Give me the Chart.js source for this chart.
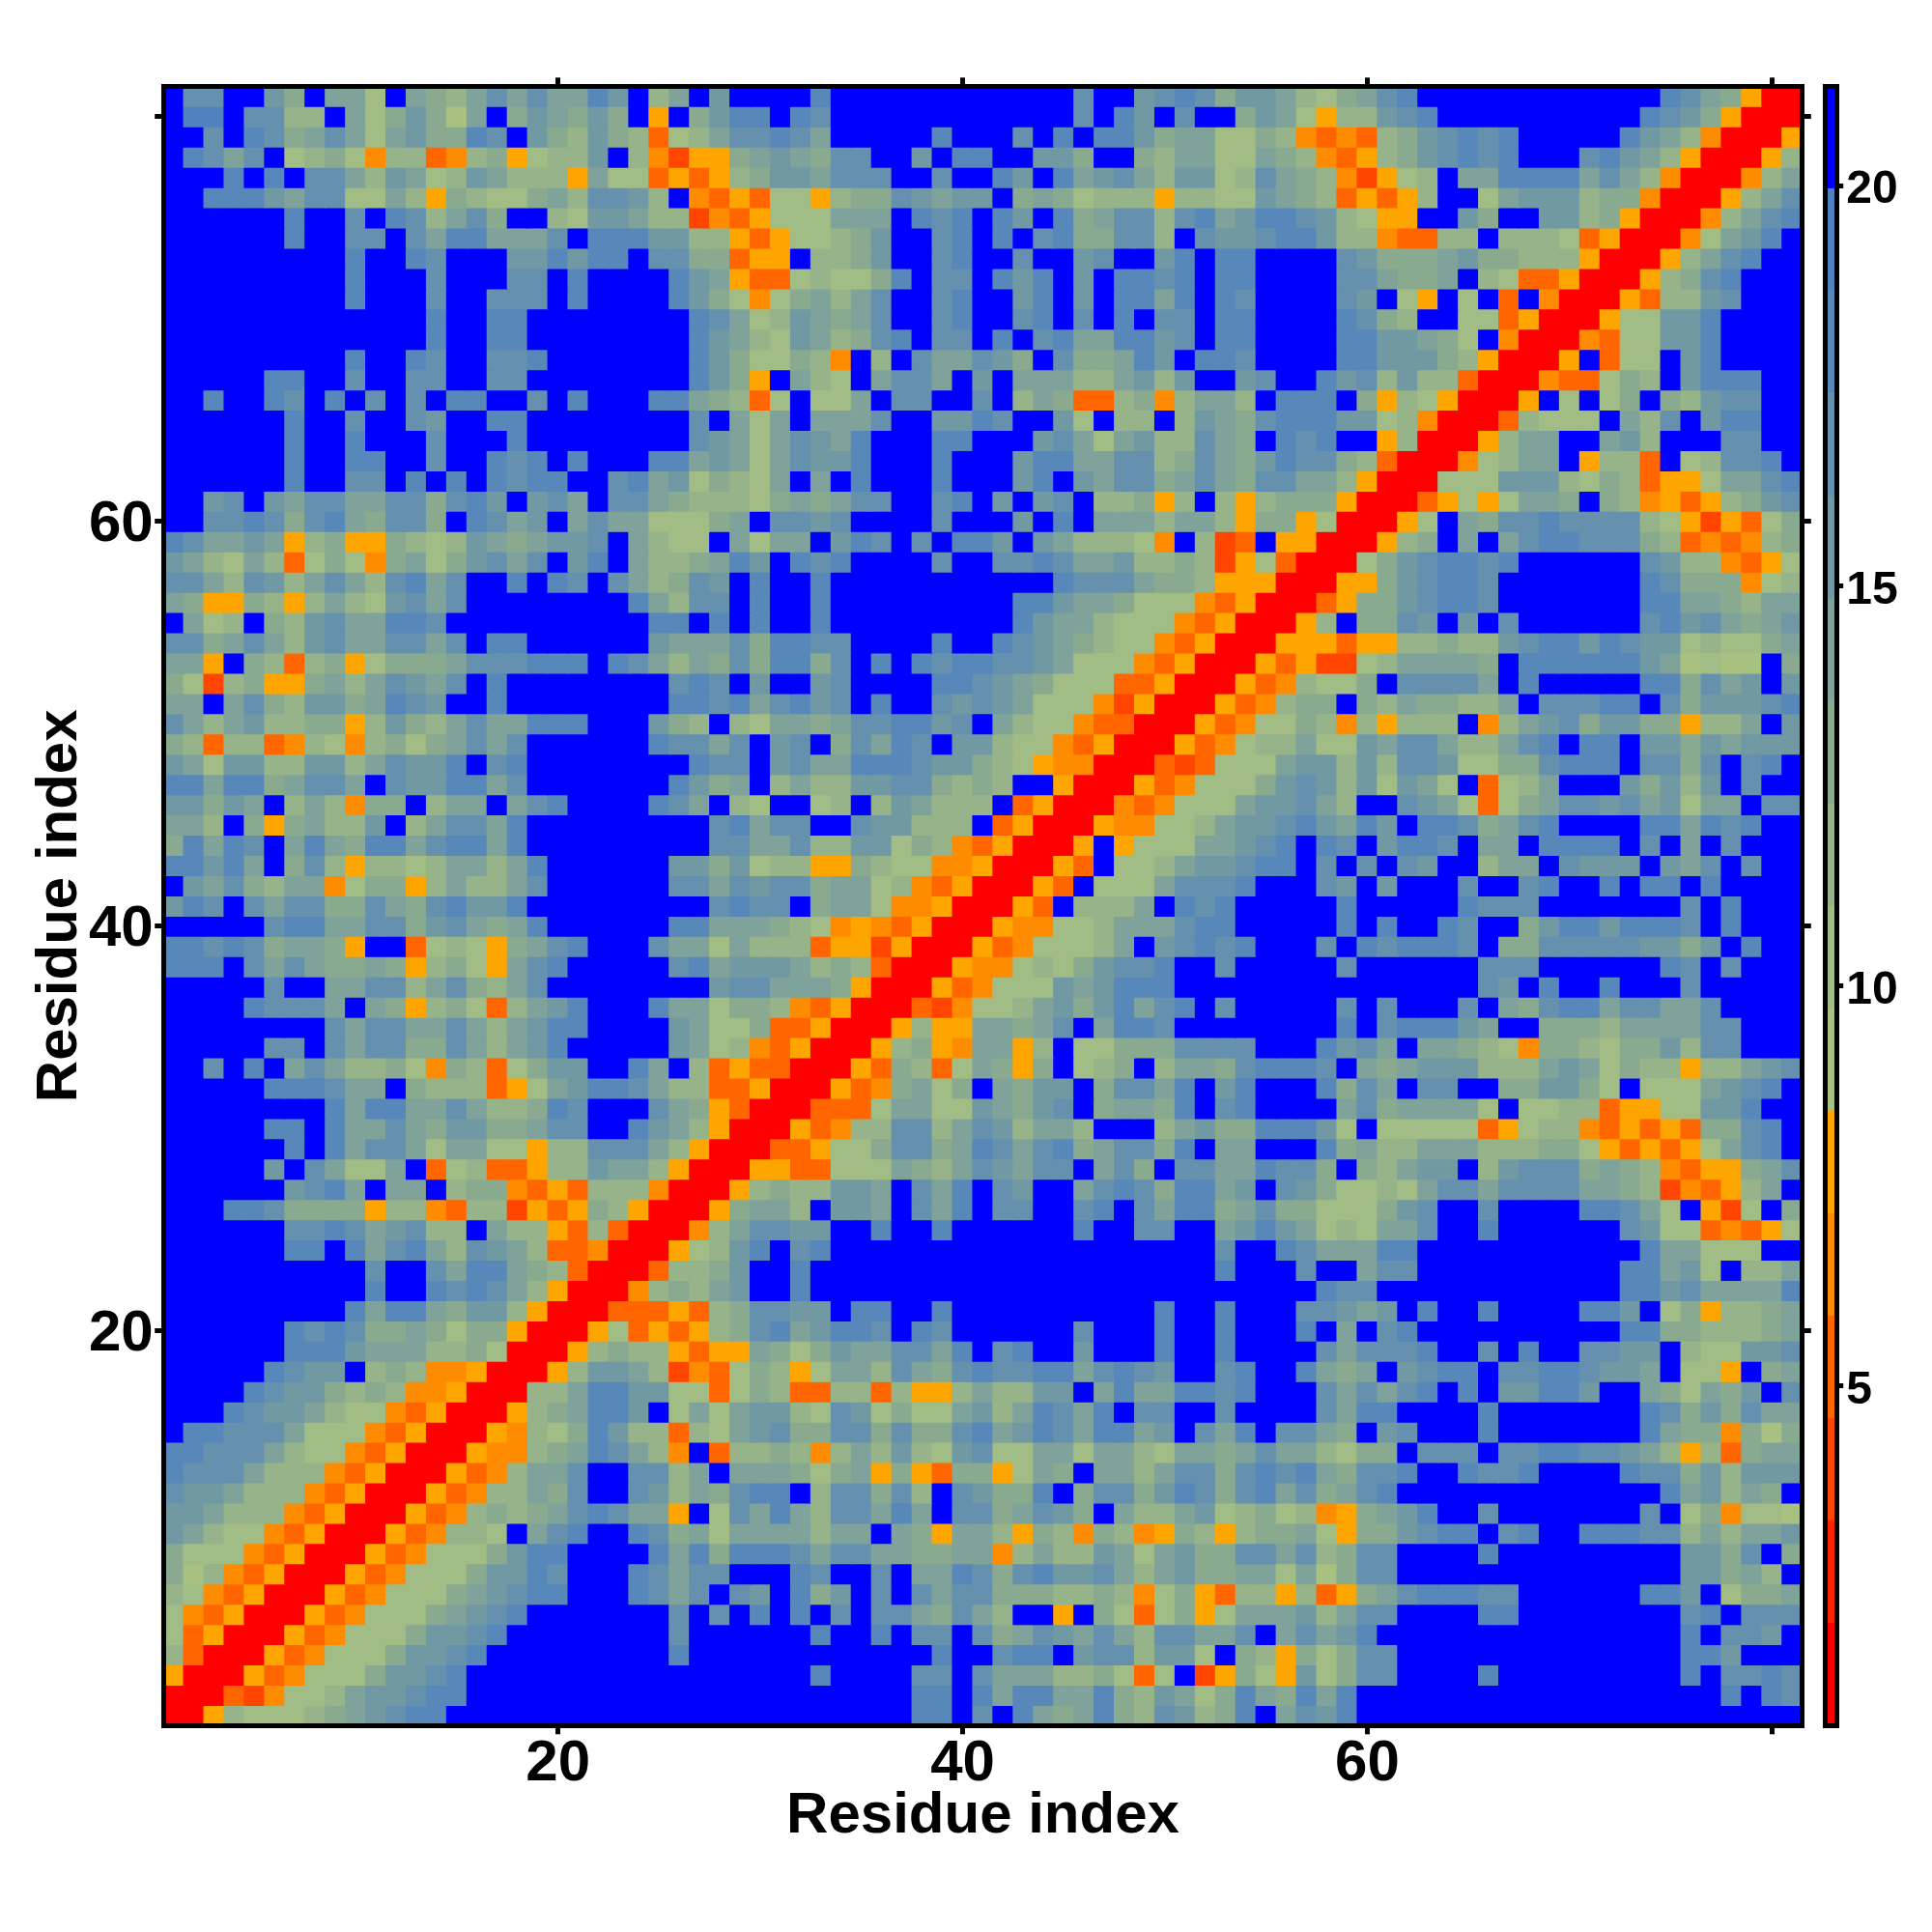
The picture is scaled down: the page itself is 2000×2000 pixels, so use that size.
<!DOCTYPE html>
<html>
<head>
<meta charset="utf-8">
<title>Residue distance map</title>
<script src="https://cdn.jsdelivr.net/npm/chart.js@4"></script>
<style>
    html, body { margin: 0; padding: 0; background: #ffffff; }
    #page { position: relative; width: 2000px; height: 2000px; background: #ffffff; }
    canvas { position: absolute; top: 0; }
    #mapChart { left: 0; }
    #barChart { left: 1870px; }
</style>
</head>
<body>
<div id="page">
    <canvas id="mapChart" width="2000" height="2000"></canvas>
    <canvas id="barChart" width="130" height="2000"></canvas>
</div>
<script>
// Colour level of each cell, one hex digit per residue, top row (81) first.
// Residues 1-27
const leftCols = [
    "fccffb9faa7fa98acacaadbf8af", "feefcc88fa79b96af9ba9b9f5f9", "ffcfdc9aca7ab99dcfb98b98378",
    "fdcacf789748834895788bf8425", "fffdfdfcca8ba78ba8885a77353", "ffdddbacc77a8598779a8ccb8f4",
    "ffffffdffcfdc8ac9ff87bba882", "ffffffdffccfcaddaaacfdddbb8", "fffffffffdffdcfffbbdbddfcc9",
    "fffffffffdfffcfffccfdffffdb", "fffffffffdfffcffcccfdffffdb", "fffffffffffffdffddffffffffd",
    "fffffffffffffdffddffffffffd", "fffffffffdffdcffccdfffffffd", "fffffddffcffccffccffffffffd",
    "ffdffdcfdfcfcfddffcfdfffdda", "ffffffdffcffcbffddffffffffc", "ffffffdffdfffcfffdffffffffc",
    "ffffffdffddffcffdcdfdfffdda", "ffffffdffccfdfdfdcddffcdab7", "ffbcfbaccaacc9cdbfbcafcca98",
    "ffccdc9cda9cc9fdcabfacaa777", "dcaaba589559878ba9abbcfa877", "ba87a8379749a79bcacfbdfa889",
    "cca8cb8aca8cdacffdfdcfca89c", "a9559858a87bcacffffffffda8c", "fa78f98bcaaddcffffffffffddf",
    "cc9aca8bcaaccacfddffffffbaa", "aa5f9838957999acccdddfdca8a", "97289559a8acbacfdffffffffcd",
    "aafac98bb9adcbffdffffffffdd", "ca8ab889958b98acaadddfffb98", "98388348748979acacffffffdcc",
    "ba7bb88bb8acbbdfcdffffffffd", "ddadd9accafcbbddacfffffffdb", "bb9baf8a8499f8aafacdffffdca",
    "aa8f959a88bf8accadfffffffff", "9dadcfada9ddacddadfffffffff", "ddbdaf9c858878aa8adffffffbb",
    "fbac98aa479958a88acffffffcc", "bdcfcacc99ca9cdbbdfffffffff", "fffffcddaacc9bca9adffffffdd",
    "ddcdc9aa95ff378759acdfffcaa", "dddfcaca99a958975acdfffffcd", "fffffcffaacc8ac98acffffffff",
    "ffffdcccafa9589738abdfffdaa", "ffffffffcaccaaca8abddffffba", "fffffccfcacc99ca8abdfffffba",
    "ffcfdfaca8897498379bbffdaf8", "fffffdddcaaf9888357abddca88", "ffffffffdaddaaca889dcfffca9",
    "fffffddfdaaca9bb99accffdba8", "ffffffdfdacca7aa77588ccca85", "fffffbfca77af37833588baa850",
    "ffffffbcdafaaf8994353888400", "fffddc999958843882535985000", "ffffffccdcabc88fa8853830004",
    "ffffffddfdacda8cba833400057", "ffffffffffcffcadda983000388", "ffffffffffdffdcdca850004898",
    "fffffffffdadda9bb8500033353", "ffffffdcdc99a97995000573535", "ffffffdddbaaa88970005898853",
    "fffffdcbbf89844500058bba824", "ffffdcbb989844500088addbb77", "fffdcbba877435000589addbf7a",
    "fddccca77743500054879db8838", "ddccca87743500054489adca84f", "dccca8884350005348aacffcc8a",
    "cbba88843500053488a9cffcb8a", "bba8884350005348989acdcaa5f", "ba877435000534887facdffdc9a",
    "97774350005347779bddffffdad", "9684350005347779bbdcfffdcac", "874350005347779abcddfffdcac",
    "74350005347779abcdfffffffcf", "7350005347779bbcdffffffffcf", "830005347779bbcdfffffffffdf",
    "50005347779bbcdffffffffffff", "000324778abbcddffffffffffff", "005877789abcddfffffffffffff"
];
// Residues 28-54
const middleCols = [
    "bffffdffffffffffffcffbcdc9b", "bddfdcffffffffffffcfdbfcff9", "accdcafffffdfffcfdfddb9aa77",
    "59aba9ccffbfddffbb9ff98aa77", "589bbacccffcffdbfdabca8bb78", "353775899cbabbf9a9788858877",
    "435777aaafdcdfdbfd9acc8cdab", "85357789bffcdfdfcd99cc8fcbb", "9355f889bffcdffcffbcffbdfdd",
    "a53378779dfccfdbdfbfddcdfdd", "97479a8acffcdffbdfbfddadfdc", "ca78ba9acffcdffcdfcfdfccfdd",
    "ba87ba89cdfccfdfcdaaddbcfdd", "b977984f8fcaacb9fc99adbfddc", "b95fa87faccafbfaaa88ab8bffb",
    "9837f77afccffcf8a9338948aa8", "fa7afaaacffbbdcffb7f88f8ba9", "ba7acbadfffddfffbca7ab88ca9",
    "ba7acbbdfffdfffbddaacc89ca9", "987afafdfffdfffbdfbacc9aca9", "8879a9accffcdfbfbcf88958f85",
    "9afccbcffffcfffbfdfaaa8aa85", "fa7aafbdcfcfddbfba88874f823", "adbfdcdffffcffccdcaab889825",
    "bfdffdfffffffffffdccca99855", "cfdffdfffffffffddbaa9777435", "dfdffdfffffffffdbaa87774350",
    "ac9ddccffffdffdcba987743500", "9c9dd9cfdfdcddccba777435000", "cfbffbcffffddcba97773350005",
    "cdacdbcfdffcbcba77742500053", "f87aa9accddbcfa877433000534", "acfbcf9cadcfbb8774350005347",
    "ccfbcaadddcbb98754400032377", "9af8a88bbcc9898ff5000534777", "f87ff78f8ba888f35000434777a",
    "cdaccffcbb888f35000544778ab", "ccaac88bb7984350005f5777aab", "9b78855987744500053f778abbc",
    "acbcc9aa7843500053f777acccd", "cdccf9aa744500053f888afdcdf", "aaa98745435000544778aaacddf",
    "7a888355250005347778afbcdcd", "abbba89830005447879bccdffcf", "bccaaa95000534777babdddffff",
    "7998435000324778ab9bdacdfcf", "7793350005855aa9acfaddcffff", "7843500058954aa58f77999cccc",
    "3533000539837a959f789f8aa9c", "3350005349a79fa9bbf9ccadfbd", "530003337aa77ba9bcf9aa9dfcd",
    "500053488cc8acb8aa8fff8ab99", "000335779cc9adcacd9acc9dfaa", "005533777a98acbaccfac9fccaa",
    "058988bbafcadfcbffacdc9ddab", "59aa8fbbafcadfccffcdfcadd9a", "8accbbffdffdffffffdffccffab",
    "8bdfcdfffffffffffffffffffcf", "9bffdffffffffffffffffffffdf", "abffdffffffffffffffffffffff",
    "89ccbbfddffdffffffffffdffdf", "89cdabddcfdcffffffcfffdffdf", "55a979baaccadfcdffbfffdffdf",
    "379857aa8ca9cdccddacdcbffcd", "3798338838558a88bbfadaaddcd", "7abb87cb7977ab8adcadfccffcf",
    "7abc99cc9c99cdabdcaddabfcad", "3889848a8b87bc77aa7aa87aa9a", "faaa979a59539957a9faa8acc9c",
    "9cddf8cc9c8fcb99df9cc9bdc9c", "7cada8ccadafcc9acb9fa88ab78", "7aaaa8aafa95aa8598498459858",
    "9dddcaccaa99aa48a88ba7ab99c", "cfffdcffcfaadc9cdbbca8ab99a", "fcbfd9bfcfcacc9998898479538",
    "cfdfdfcfcca9ca8ff5f9737957a", "fffffdffdfccfc9acbaca8ccaac", "fffffffffffdffcddfbcc8bb7f9",
    "fffffdffffccfcaaa889737f259", "ffffffffffddfdaddaad98ba79d", "ffffffffffddfcfda9ad98cb89d"
];
// Residues 55-81
const rightCols = [
    "ba879acdffffffffffffdca9500", "ba7588bcdffffffffffdcb95000", "98434389bcdcdfffffdba840005",
    "a9843589bcdcdfffcdba8500058", "ca9842578faaddddaca8400048a", "ba9835358ff7abbb899400058ac",
    "ddcb8755ffb9ffbb89500048acd", "cddb8843388f88873500047abdf", "ffffcb999ab99888500058acdff",
    "ffffcca99af87335000589cdfff", "ffffcbf75f7f3f40005388bcfff", "ffffdc98ff7735000577bbdffff",
    "ffffddbba97f40004377bbdffff", "ffffddbbb9850005f377fbdffff", "cffdbc8b883000433798fbdddff",
    "fdddf958750005f7f79f98bccff", "cdddbb78400038777fa8cfbddff", "fdcdff5800058aaffab8fffccff",
    "bdcc983000478aaf5883f78ccdf", "ccaa85000777bbb87983557aacd", "8999500035757aa9f98453589bc",
    "995700057fa9ccdcccc87525379", "f55000589fafacddccc98343489", "7300079bcddcdffffffcb884357",
    "5000559bcddcfffffffdc999478", "0003599bcddcfffffffddaa98aa", "0058f99cbfbfcffffffcdbca9ab",
    "055535588988bcddbdcbb78779a", "5352278aaaa9fddddddba6766f9", "348779fccccafdfffffdd9cabfb",
    "4899f98a9988afcccddfc9bbbcd", "7798485888f48abc9bb99588afb", "88a77bacca88acdfddfbb9babbb",
    "7abb8b8ccb7799cdddfcc9cfcdf", "9bcb8b7ba7f378afffb9b8bfcff", "bbca8ffcba7379accbcab7aafcc",
    "bcdbadbfddc9acdffffddadcdff", "cdfdcfbddcfaafddddfcfafcfff", "ddfcfcfcbff8aafcbbbfbacfcff",
    "fffcbfbfffcffcdffdfddfdffff", "ffffdfffffdcccfffffffcfdfff", "ffffdfdffdcff9bddbdddcfdfff",
    "fffcfdcdddcf99cccccbb9bfdff", "ffffcffffffcccffffffdcfcfff", "fffffffffffcbfdffdfffcfffff",
    "ffffcfcfffcfa9cddaccaacffff", "ffffdfcdddbaff9998aaaaccfff", "fffdbcafaa9874998799b8ccfff",
    "dddcfa9abbb888aba7988588abc", "fffd9cafccff99bb97f777abcdf", "ffffac9aaaa7f778835577bbdff",
    "dddb7f777773578843535399cdf", "fffd9a88aaa888997535357acdf", "dcc9f98abbf8bccc9a9843559ac",
    "fcb97787accaccccaa9824358af", "c997779bcffcffffddca7f527f9", "dba787aacffdffffffcb7734357",
    "fdcaaaddfffffffffffdaa777ff", "ffcffaccffffffffffddab7f88a", "fffdccffffffffffffddbcaaaad",
    "ffccbabfdffdffffddbf795889a", "ffdfafcdffffffffffdd998889a", "fffcacccdffcfdffccbbf877bbc",
    "ffda9afbcddfccddcbbaf775f9a", "fffcacacdfdfbbddbffa97a9bfc", "fffcaddffffdfffffffdc9b9caa",
    "fcca9fbcfffdfffffffda994969", "caa8799fcccfccddccba85839aa", "dcda9ccdffdccdffffdcc9b8bbb",
    "dac9acdfffffffffffffdab8a9f", "978459abdffcfffffffcf794776", "99a7599bcddfcdffdddcc8a8aab",
    "cac89ccffffdfffffffffbb9cf9", "a7a69ccffffffffffffffbb9a8f", "858359acdddccffffffddbf799a",
    "aab8accffffddffffffffcdfccc", "facabdfffffffffffffffdfccbf", "85979ccffffffffffffffddbfff",
    "75b79ccffffdfffffffffdfccdc", "a9dadffffffffffffffffffdfdc", "facbdffffffffffffffffffffff"
];

// Colour bar: the 16 levels and the 17 distance edges between them
const levelColors = [
    "#ff0000", "#ff2200", "#ff4500", "#ff6600", "#ff8c00", "#ffa500",
    "#a9c180", "#a2bc85", "#96b38a", "#8aaa90", "#7fa29a", "#7199a3",
    "#6591ae", "#5887ba", "#5082c0", "#0000ff"
];
const levelEdges = [0.76, 2.04, 3.32, 4.6, 5.88, 7.16, 8.44, 9.72, 11, 12.28, 13.56, 14.84, 16.12, 17.4, 18.68, 19.96, 21.24];

// Axis ticks
const residueTicks = [20, 40, 60, 80];
const residueLabels = ["20", "40", "60", ""];
const barTicks = [5, 10, 15, 20];
const axisTitle = "Residue index";

const fontFamily = "'Liberation Sans', Arial, sans-serif";
const lineWidth = 5;

// Fix an axis box to a size so the plot lands where it should
function fixWidth(size) {
    return scale => { scale.width = size; };
}
function fixHeight(size) {
    return scale => { scale.height = size; };
}
function useTicks(values) {
    return scale => { scale.ticks = values.map(value => ({ value: value })); };
}

// Shared look of a framing axis
function frameAxis(axis, min, max, tickValues, tickLength, fit) {
    return {
        type: 'linear',
        axis: axis,
        min: min,
        max: max,
        offset: false,
        afterBuildTicks: useTicks(tickValues),
        afterFit: fit,
        border: { display: true, color: '#000000', width: lineWidth, z: 1 },
        grid: {
            offset: false,
            drawOnChartArea: false,
            drawTicks: tickLength > 0,
            tickLength: tickLength,
            tickWidth: lineWidth,
            tickColor: '#000000',
            lineWidth: lineWidth,
            color: '#000000'
        },
        ticks: { display: false, autoSkip: false }
    };
}

// Build the cells
function buildMapDatasets() {
    const residues = leftCols.map((_, i) => i + 1);
    return leftCols.map((text, i) => {
        const row = leftCols.length - i;
        const levels = text + middleCols[i] + rightCols[i];
        return {
            data: residues.map(x => ({ x: x, y: [row - 0.5, row + 0.5] })),
            backgroundColor: residues.map(x => levelColors[parseInt(levels[x - 1], 16)]),
            borderWidth: 0,
            inflateAmount: 0.6, // overlap neighbours so no seams show
            grouped: false,
            barPercentage: 1,
            categoryPercentage: 1
        };
    });
}

function drawMap() {
    const bottomAxis = frameAxis('x', 0.5, 81.5, residueTicks, 9, fixHeight(213.7));
    bottomAxis.position = 'bottom';
    bottomAxis.ticks = {
        display: true,
        autoSkip: false,
        maxRotation: 0,
        padding: -5,
        color: '#000000',
        font: { family: fontFamily, size: 60, weight: 'bold' },
        callback: value => residueLabels[residueTicks.indexOf(value)]
    };
    bottomAxis.title = {
        display: true,
        text: axisTitle,
        color: '#000000',
        font: { family: fontFamily, size: 60, weight: 'bold' },
        padding: { top: 0, bottom: 84 }
    };

    const leftAxis = frameAxis('y', 0.5, 81.5, residueTicks, 9, fixWidth(169.2));
    leftAxis.position = 'left';
    leftAxis.ticks = {
        display: true,
        autoSkip: false,
        padding: 1.5,
        labelOffset: 4,
        color: '#000000',
        font: { family: fontFamily, size: 60, weight: 'bold' },
        callback: value => residueLabels[residueTicks.indexOf(value)]
    };
    leftAxis.title = {
        display: true,
        text: axisTitle,
        color: '#000000',
        font: { family: fontFamily, size: 60, weight: 'bold' },
        padding: { top: 26, bottom: 0 }
    };

    const topAxis = frameAxis('x', 0.5, 81.5, residueTicks, 9, fixHeight(89.3));
    topAxis.position = 'top';
    const rightAxis = frameAxis('y', 0.5, 81.5, residueTicks, 9, fixWidth(134.2));
    rightAxis.position = 'right';

    new Chart(document.getElementById('mapChart').getContext('2d'), {
        type: 'bar',
        data: { datasets: buildMapDatasets() },
        options: {
            responsive: false,
            animation: false,
            events: [],
            layout: { padding: 0 },
            plugins: { legend: { display: false }, tooltip: { enabled: false } },
            scales: { x: bottomAxis, y: leftAxis, x2: topAxis, y2: rightAxis }
        }
    });
}

function drawColourBar() {
    const valueAxis = frameAxis('y', levelEdges[0], levelEdges[16], barTicks, 7, fixWidth(98.8));
    valueAxis.position = 'right';
    valueAxis.ticks = {
        display: true,
        autoSkip: false,
        padding: 3,
        labelOffset: 5,
        color: '#000000',
        font: { family: fontFamily, size: 48, weight: 'bold' },
        callback: value => String(value)
    };

    const leftEdge = frameAxis('y', levelEdges[0], levelEdges[16], [], 0, fixWidth(19.2));
    leftEdge.position = 'left';
    const topEdge = frameAxis('x', 0, 1, [], 0, fixHeight(89.3));
    topEdge.position = 'top';

    const bottomEdge = {
        type: 'category',
        position: 'bottom',
        afterFit: fixHeight(213.7),
        border: { display: true, color: '#000000', width: lineWidth, z: 1 },
        grid: { drawOnChartArea: false, drawTicks: false, lineWidth: lineWidth, color: '#000000' },
        ticks: { display: false }
    };

    new Chart(document.getElementById('barChart').getContext('2d'), {
        type: 'bar',
        data: {
            labels: [''],
            datasets: levelColors.map((color, i) => ({
                data: [[levelEdges[i], levelEdges[i + 1]]],
                backgroundColor: color,
                borderWidth: 0,
                grouped: false,
                barPercentage: 1,
                categoryPercentage: 1
            }))
        },
        options: {
            responsive: false,
            animation: false,
            events: [],
            layout: { padding: 0 },
            plugins: { legend: { display: false }, tooltip: { enabled: false } },
            scales: { x: bottomEdge, y: valueAxis, y2: leftEdge, x2: topEdge }
        }
    });
}

drawMap();
drawColourBar();
</script>
</body>
</html>
